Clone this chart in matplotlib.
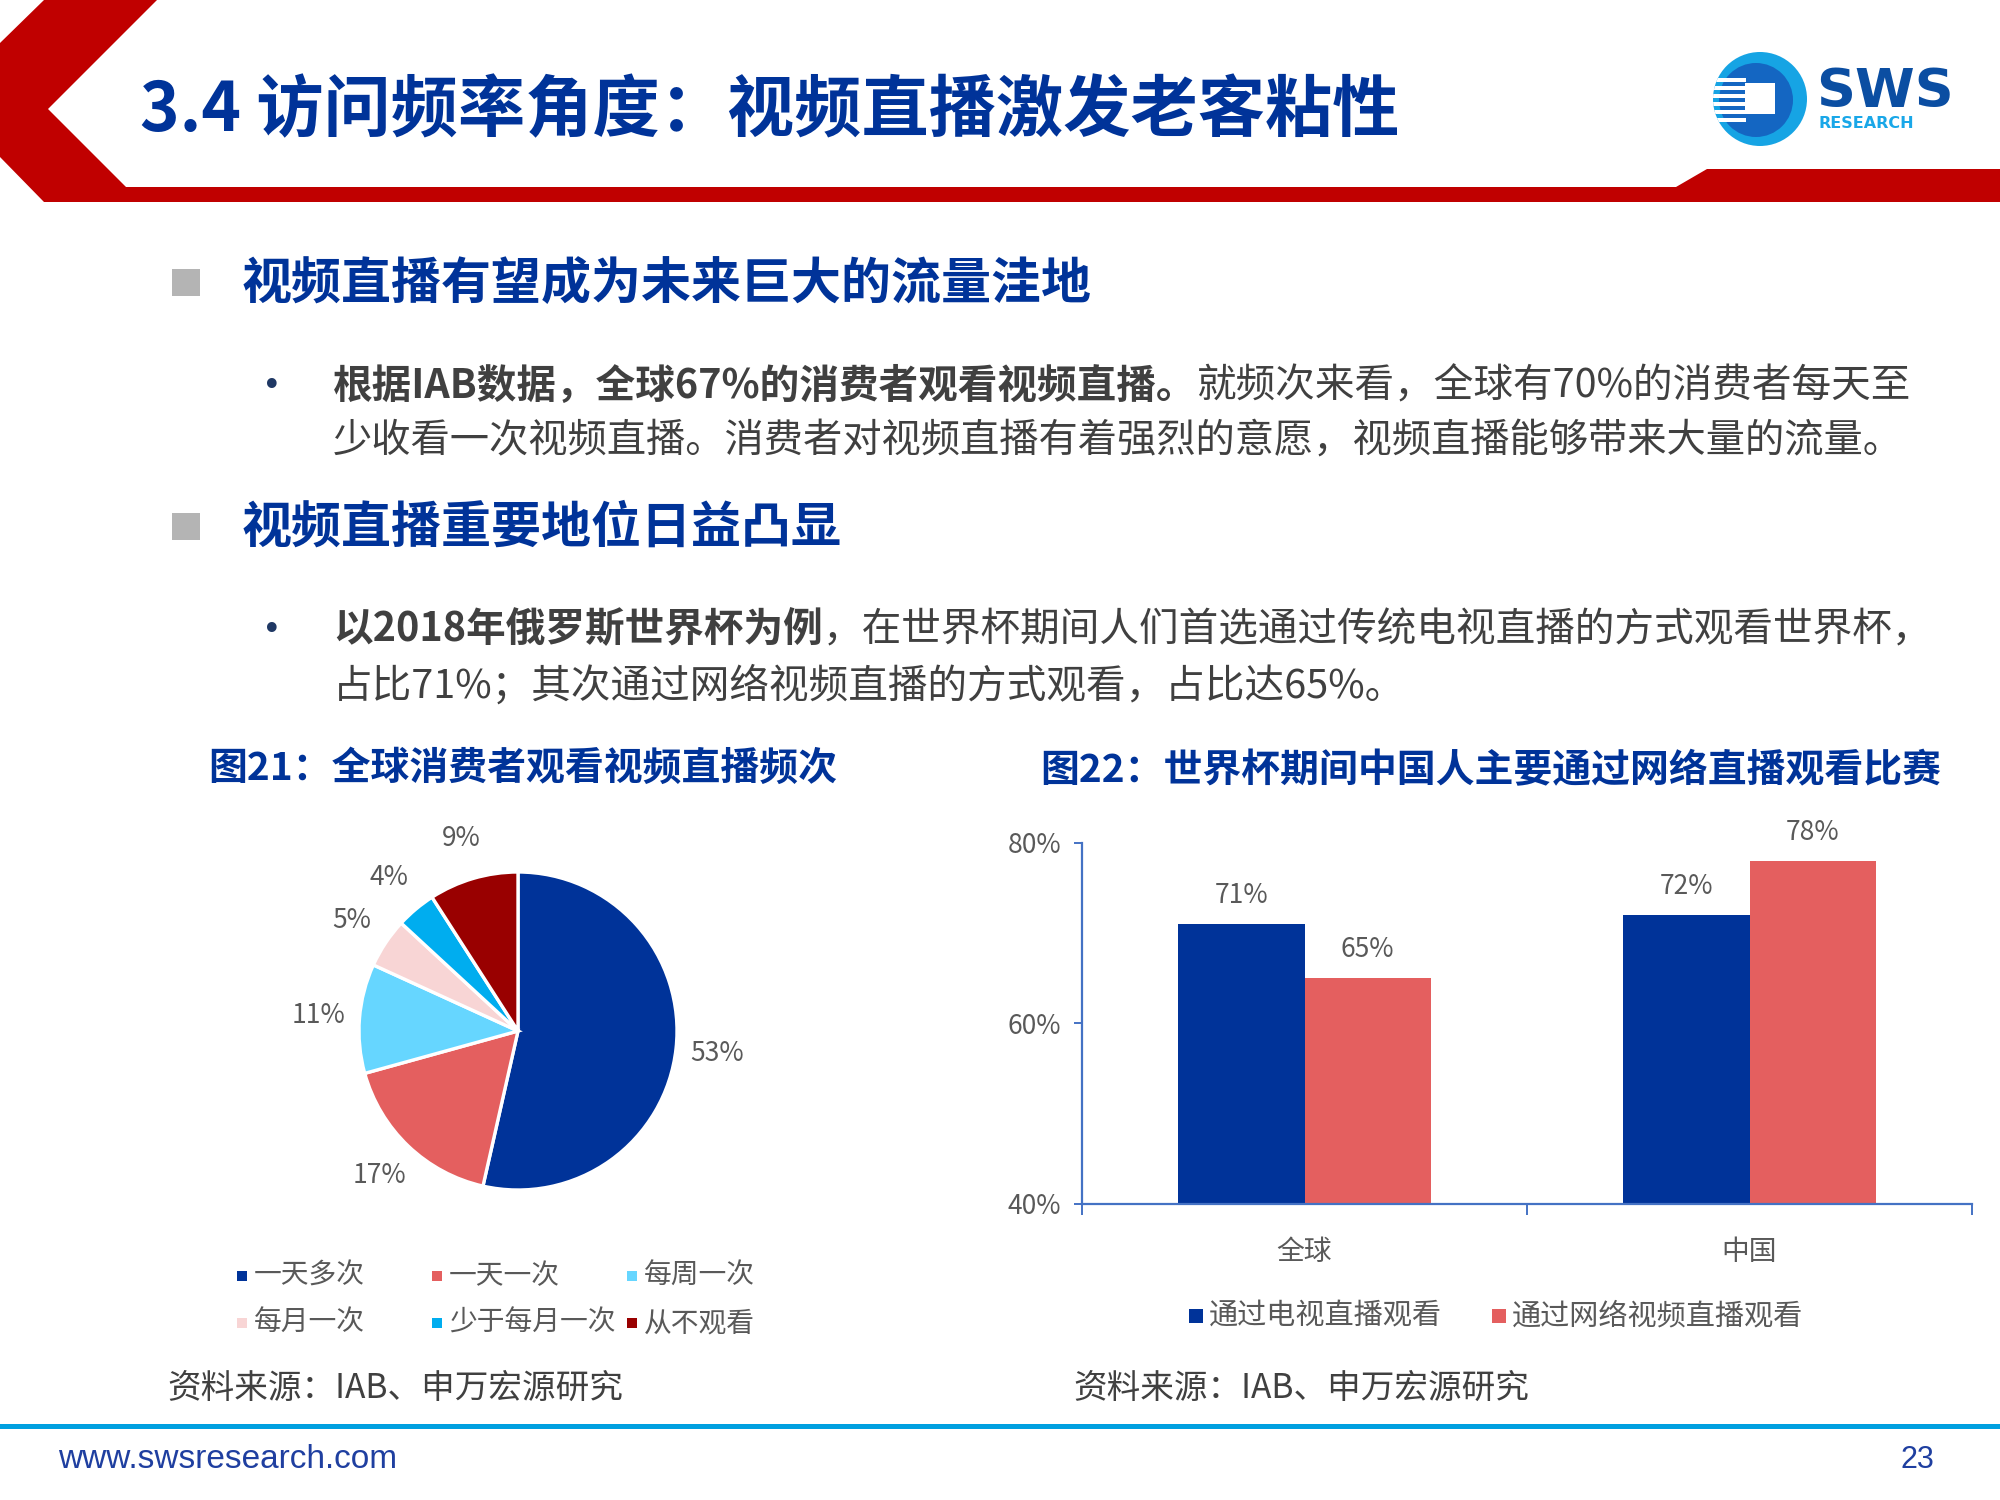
import matplotlib
matplotlib.use('Agg')
import matplotlib.pyplot as plt
from matplotlib.patches import Polygon, Rectangle, Circle
import numpy as np

plt.rcParams['font.family'] = ['Noto Sans CJK SC', 'DejaVu Sans']

# ---------------- data ----------------
pie_labels = ['一天多次', '一天一次', '每周一次', '每月一次', '少于每月一次', '从不观看']
pie_values = [53, 17, 11, 5, 4, 9]
pie_colors = ['#003399', '#E45F5F', '#66D6FF', '#F8D5D5', '#00ADEF', '#990000']

bar_categories = ['全球', '中国']
bar_series = ['通过电视直播观看', '通过网络视频直播观看']
tv_values = [71, 72]
net_values = [65, 78]
bar_colors = ['#003399', '#E45F5F']
y_ticks = [40, 60, 80]

title = '3.4 访问频率角度：视频直播激发老客粘性'
section1 = '视频直播有望成为未来巨大的流量洼地'
section2 = '视频直播重要地位日益凸显'
bullet1_l1 = [('根据IAB数据，全球67%的消费者观看视频直播。', 'bold'),
              ('就频次来看，全球有70%的消费者每天至', 'normal')]
bullet1_l2 = [('少收看一次视频直播。消费者对视频直播有着强烈的意愿，视频直播能够带来大量的流量。', 'normal')]
bullet2_l1 = [('以2018年俄罗斯世界杯为例', 'bold'),
              ('，在世界杯期间人们首选通过传统电视直播的方式观看世界杯，', 'normal')]
bullet2_l2 = [('占比71%；其次通过网络视频直播的方式观看，占比达65%。', 'normal')]
fig21_title = '图21：全球消费者观看视频直播频次'
fig22_title = '图22：世界杯期间中国人主要通过网络直播观看比赛'
source = '资料来源：IAB、申万宏源研究'

BLUE = '#003399'
TXT = '#404040'
LAB = '#595959'

W, H = 2000, 1500
fig = plt.figure(figsize=(20, 15), dpi=100)
bg = fig.add_axes([0, 0, 1, 1])
bg.set_xlim(0, W)
bg.set_ylim(H, 0)
bg.axis('off')
renderer = fig.canvas.get_renderer()

# ---------------- header ----------------
hdr = [(44, 0), (157, 0), (48, 109), (126, 187), (1676, 187), (1707, 169),
       (2000, 169), (2000, 202), (44, 202), (0, 157), (0, 43)]
bg.add_patch(Polygon(hdr, closed=True, facecolor='#C00000', edgecolor='none'))
bg.text(140, 112, title, fontsize=48.4, fontweight='heavy', color=BLUE, va='center', ha='left')

# logo
bg.add_patch(Circle((1760, 99), 47, facecolor='#16A4E4', edgecolor='none'))
bg.add_patch(Circle((1756, 100), 37, facecolor='#1466C2', edgecolor='none'))
clipc = Circle((1760, 99), 47, transform=bg.transData)
for yy in [78, 86, 94, 102, 110, 118]:
    r = Rectangle((1710, yy), 36, 4, facecolor='white', edgecolor='none')
    bg.add_patch(r)
    r.set_clip_path(clipc)
bg.add_patch(Rectangle((1745, 83), 30, 31, facecolor='white', edgecolor='none'))
bg.text(1816, 92, 'SWS', fontsize=39, fontweight='bold', color='#0B4EA2',
        family='DejaVu Sans', va='center', ha='left')
bg.text(1818, 124, 'RESEARCH', fontsize=11.5, fontweight='bold', color='#19A7E8',
        family='DejaVu Sans', va='center', ha='left')

# ---------------- body text ----------------
def draw_runs(x, y, parts, size):
    for txt, weight in parts:
        t = bg.text(x, y, txt, fontsize=size, fontweight=weight, color=TXT,
                    va='center', ha='left')
        bb = t.get_window_extent(renderer)
        x += bb.width

bg.add_patch(Rectangle((172, 269), 28, 27, facecolor='#B4B4B4', edgecolor='none'))
bg.text(242, 284, section1, fontsize=36, fontweight='bold', color=BLUE, va='center', ha='left')
bg.text(272, 386, '•', fontsize=24, color='#1F3864', family='DejaVu Sans', va='center', ha='center')
draw_runs(333, 386, bullet1_l1, 28.5)
draw_runs(333, 441, bullet1_l2, 28.3)

bg.add_patch(Rectangle((172, 513), 28, 27, facecolor='#B4B4B4', edgecolor='none'))
bg.text(242, 528, section2, fontsize=36, fontweight='bold', color=BLUE, va='center', ha='left')
bg.text(272, 630, '•', fontsize=24, color='#1F3864', family='DejaVu Sans', va='center', ha='center')
draw_runs(333, 630, bullet2_l1, 28.5)
draw_runs(333, 686, bullet2_l2, 28.5)

bg.text(208, 768, fig21_title, fontsize=28, fontweight='bold', color=BLUE, va='center', ha='left')
bg.text(1040, 771, fig22_title, fontsize=28, fontweight='bold', color=BLUE, va='center', ha='left')

# ---------------- pie ----------------
R = 159
cx, cy = 518, 1031
pax = fig.add_axes([(cx - 2 * R) / W, 1 - (cy + 2 * R) / H, 4 * R / W, 4 * R / H])
wedges, texts = pax.pie(pie_values, colors=pie_colors, startangle=90, counterclock=False,
                        radius=1, labels=[f'{v}%' for v in pie_values], labeldistance=1.26,
                        wedgeprops=dict(edgecolor='white', linewidth=2.4),
                        textprops=dict(color=LAB, fontsize=19))
for t in texts:
    t.set_ha('center')
    t.set_va('center')
pax.set_xlim(-2, 2)
pax.set_ylim(-2, 2)
pax.set_aspect('equal')
pax.axis('off')

# pie legend (3 columns x 2 rows)
for i, (lab, col) in enumerate(zip(pie_labels, pie_colors)):
    r_, c_ = divmod(i, 3)
    lx = 237 + 195 * c_
    ly = 1276 + 47 * r_
    bg.add_patch(Rectangle((lx, ly - 5), 10, 10, facecolor=col, edgecolor='none'))
    bg.text(lx + 17, ly, lab, fontsize=20, color=LAB, va='center', ha='left')

# ---------------- bars ----------------
bax = fig.add_axes([1082 / W, 1 - 1204 / H, 890 / W, 361 / H])
x = np.arange(len(bar_categories))
w = 0.284
b1 = bax.bar(x - w / 2, tv_values, w, color=bar_colors[0], label=bar_series[0])
b2 = bax.bar(x + w / 2, net_values, w, color=bar_colors[1], label=bar_series[1])
bax.set_ylim(40, 80)
bax.set_xlim(-0.5, 1.5)
AX = '#4472C4'
for s in ['top', 'right']:
    bax.spines[s].set_visible(False)
for s in ['left', 'bottom']:
    bax.spines[s].set_color(AX)
    bax.spines[s].set_linewidth(1.6)
bax.set_yticks(y_ticks)
bax.set_yticklabels([f'{v}%' for v in y_ticks])
bax.tick_params(axis='y', colors=AX, labelcolor=LAB, labelsize=19, length=6, width=1.4, pad=9)
bax.set_xticks([-0.5, 0.5, 1.5])
bax.set_xticklabels([])
bax.tick_params(axis='x', which='major', colors=AX, length=8, width=1.4)
bax.set_xticks(x, minor=True)
bax.set_xticklabels(bar_categories, minor=True)
bax.tick_params(axis='x', which='minor', length=0, labelcolor=LAB, labelsize=20, pad=24)
bax.bar_label(b1, labels=[f'{v}%' for v in tv_values], padding=11, color=LAB, fontsize=19)
bax.bar_label(b2, labels=[f'{v}%' for v in net_values], padding=11, color=LAB, fontsize=19)
for t in bax.texts:
    t.set_clip_on(False)

# bar legend
leg_x = [1189, 1492]
for lx, lab, col in zip(leg_x, bar_series, bar_colors):
    bg.add_patch(Rectangle((lx, 1309), 14, 14, facecolor=col, edgecolor='none'))
    bg.text(lx + 20, 1316, lab, fontsize=21, color=LAB, va='center', ha='left')

# ---------------- sources & footer ----------------
bg.text(167, 1388, source, fontsize=24.2, color=TXT, va='center', ha='left')
bg.text(1073, 1388, source, fontsize=24.2, color=TXT, va='center', ha='left')
bg.add_patch(Rectangle((0, 1424), W, 5, facecolor='#00A0E0', edgecolor='none'))
bg.text(58, 1460, 'www.swsresearch.com', fontsize=24, color='#1F3FA0',
        family='Liberation Sans', va='center', ha='left')
bg.text(1934, 1460, '23', fontsize=22, color='#1F3FA0',
        family='Liberation Sans', va='center', ha='right')

fig.savefig('out.png', dpi=100)
